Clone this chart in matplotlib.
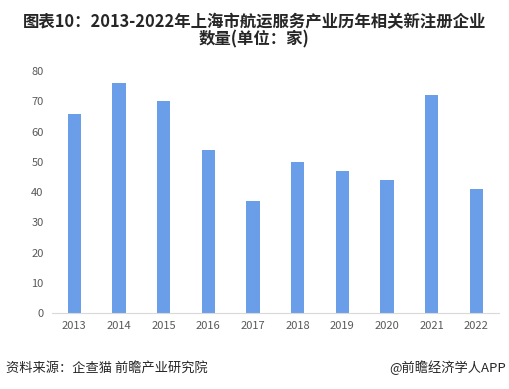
import matplotlib
matplotlib.use("Agg")
import matplotlib.pyplot as plt

plt.rcParams['font.family'] = ['Noto Sans CJK SC', 'DejaVu Sans']

years = ['2013', '2014', '2015', '2016', '2017', '2018', '2019', '2020', '2021', '2022']
counts = [66, 76, 70, 54, 37, 50, 47, 44, 72, 41]
yticks = [0, 10, 20, 30, 40, 50, 60, 70, 80]

fig = plt.figure(figsize=(5.09, 3.89), dpi=100)
ax = fig.add_axes([0.102, 0.195, 0.878, 0.622])

ax.bar(range(len(years)), counts, width=0.3, color='#6a9ee8', zorder=2)
ax.set_xlim(-0.5, len(years) - 0.5)
ax.set_ylim(0, 80)
ax.set_yticks(yticks)
ax.set_xticks(range(len(years)))
ax.set_xticklabels(years)
ax.tick_params(axis='both', length=0, labelsize=8, colors='#595959', pad=6)

for side in ['top', 'right', 'left']:
    ax.spines[side].set_visible(False)
ax.spines['bottom'].set_color('#d9d9d9')

fig.text(0.5, 0.922, '图表10：2013-2022年上海市航运服务产业历年相关新注册企业\n数量(单位：家)',
         ha='center', va='center', fontsize=11.8, fontweight='bold', color='#262626',
         linespacing=0.95)
fig.text(0.012, 0.054, '资料来源：企查猫 前瞻产业研究院', ha='left', va='center',
         fontsize=9.5, color='#262626')
fig.text(0.995, 0.054, '@前瞻经济学人APP', ha='right', va='center',
         fontsize=9.5, color='#262626')

plt.savefig('out.png', dpi=100)
